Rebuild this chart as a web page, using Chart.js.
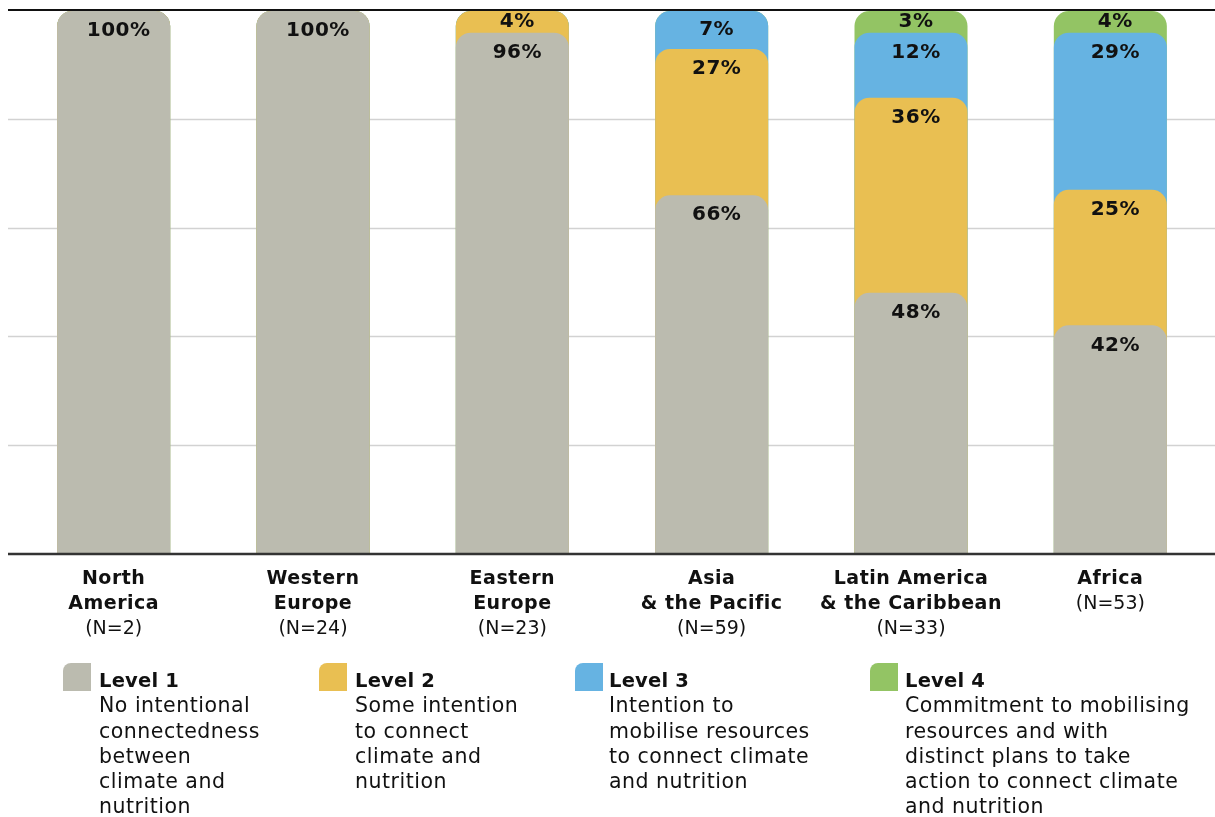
<!DOCTYPE html>
<html>
<head>
<meta charset="utf-8">
<script src="https://cdn.jsdelivr.net/npm/chart.js@4.4.0/dist/chart.umd.min.js"></script>
<style>
  html, body { margin: 0; padding: 0; background: #fff; }
  #wrap { position: relative; width: 1215px; height: 817px; overflow: hidden; font-family: "DejaVu Sans", sans-serif; }
  canvas { position: absolute; left: 0; top: 0; }
  .leg { position: absolute; top: 663px; color: #111; }
  .sw { position: absolute; left: 0; top: 0; width: 28px; height: 28px; border-top-left-radius: 8px; }
  .txt { position: absolute; top: 5px; font-size: 20.5px; line-height: 25.3px; white-space: nowrap; letter-spacing: 0.5px; }
  .txt b { font-weight: bold; font-size: 19.5px; letter-spacing: 0.2px; }
</style>
</head>
<body>
<div id="wrap">
  <canvas id="c" width="1215" height="817"></canvas>
  <div id="legend"></div>
</div>
<script>
// ---- data ----
const regions = [["North", "America"], ["Western", "Europe"], ["Eastern", "Europe"], ["Asia", "& the Pacific"], ["Latin America", "& the Caribbean"], ["Africa"]];
const sampleSizes = ["(N=2)", "(N=24)", "(N=23)", "(N=59)", "(N=33)", "(N=53)"];
// segment heights (percent)
const level1 = [100, 100, 96, 66, 48, 42];
const level2 = [0, 0, 4, 27, 36, 25];
const level3 = [0, 0, 0, 7, 12, 29];
const level4 = [0, 0, 0, 0, 4, 4];
// value labels as printed on the bars
const level1Labels = ["100%", "100%", "96%", "66%", "48%", "42%"];
const level2Labels = ["", "", "4%", "27%", "36%", "25%"];
const level3Labels = ["", "", "", "7%", "12%", "29%"];
const level4Labels = ["", "", "", "", "3%", "4%"];
const levelNames = ["Level 1", "Level 2", "Level 3", "Level 4"];
const levelDescs = [
  ["No intentional", "connectedness", "between", "climate and", "nutrition"],
  ["Some intention", "to connect", "climate and", "nutrition"],
  ["Intention to", "mobilise resources", "to connect climate", "and nutrition"],
  ["Commitment to mobilising", "resources and with", "distinct plans to take", "action to connect climate", "and nutrition"]
];
const yTicks = [0, 20, 40, 60, 80, 100];
const colors = ["#bbbbaf", "#e9bf52", "#66b3e2", "#93c464"];

// ---- build ----
const levels = [level1, level2, level3, level4];
const labelSets = [level1Labels, level2Labels, level3Labels, level4Labels];
// each level drawn as a bar from 0 to its cumulative top; lower levels are drawn over higher ones
const cumul = levels.map((arr, li) => arr.map((v, i) => levels.slice(0, li + 1).reduce((s, a) => s + a[i], 0)));

const FONT = '"DejaVu Sans", sans-serif';

const linesPlugin = {
  id: 'lines',
  beforeDatasetsDraw(chart) {
    const ctx = chart.ctx, y = chart.scales.y;
    ctx.save();
    ctx.strokeStyle = '#d2d2d2';
    ctx.lineWidth = 1.5;
    yTicks.slice(1, -1).forEach(t => {
      const py = Math.round(y.getPixelForValue(t)) + 0.5;
      ctx.beginPath(); ctx.moveTo(8, py); ctx.lineTo(1215, py); ctx.stroke();
    });
    ctx.restore();
  },
  afterDatasetsDraw(chart) {
    const ctx = chart.ctx, y = chart.scales.y, x = chart.scales.x;
    ctx.save();
    ctx.strokeStyle = '#111';
    ctx.lineWidth = 2;
    let py = y.getPixelForValue(100) - 1;
    ctx.beginPath(); ctx.moveTo(8, py); ctx.lineTo(1215, py); ctx.stroke();
    ctx.strokeStyle = '#333';
    ctx.lineWidth = 2.5;
    py = y.getPixelForValue(0) + 1;
    ctx.beginPath(); ctx.moveTo(8, py); ctx.lineTo(1215, py); ctx.stroke();

    ctx.fillStyle = '#111';
    ctx.textAlign = 'center';
    ctx.textBaseline = 'middle';
    ctx.font = 'bold 20px ' + FONT;
    ctx.letterSpacing = '0.5px';
    levels.forEach((arr, li) => {
      arr.forEach((v, i) => {
        if (v <= 0 || !labelSets[li][i]) return;
        const top = y.getPixelForValue(cumul[li][i]);
        const bot = y.getPixelForValue(cumul[li][i] - v);
        const h = bot - top;
        const ly = top + Math.min(20, h / 2);
        ctx.fillText(labelSets[li][i], x.getPixelForValue(i) + 5, ly);
      });
    });

    regions.forEach((lines, i) => {
      const cx = x.getPixelForValue(i);
      let ly = 579;
      ctx.font = 'bold 19px ' + FONT;
      ctx.letterSpacing = '0.5px';
      lines.forEach(l => { ctx.fillText(l, cx, ly); ly += 25; });
      ctx.font = '19px ' + FONT;
      ctx.letterSpacing = '0px';
      ctx.fillText(sampleSizes[i], cx, ly);
    });
    ctx.restore();
  }
};

new Chart(document.getElementById('c'), {
  type: 'bar',
  data: {
    labels: regions.map(r => r.join(' ')),
    datasets: levels.map((arr, li) => ({
      label: levelNames[li],
      data: cumul[li],
      backgroundColor: colors[li],
      borderWidth: 0,
      borderRadius: { topLeft: 15, topRight: 15, bottomLeft: 0, bottomRight: 0 },
      borderSkipped: 'bottom',
      grouped: false,
      categoryPercentage: 1,
      barPercentage: 0.567
    }))
  },
  options: {
    responsive: false,
    animation: false,
    layout: { padding: { left: 14, right: 5, top: 11, bottom: 264 } },
    plugins: { legend: { display: false }, tooltip: { enabled: false } },
    scales: {
      x: { display: false },
      y: { display: false, min: 0, max: 100 }
    }
  },
  plugins: [linesPlugin]
});

const legX = [63, 319, 575, 870];
const legTextX = [99, 355, 609, 905];
const legend = document.getElementById('legend');
levelNames.forEach((n, i) => {
  const d = document.createElement('div');
  d.className = 'leg';
  d.style.left = legX[i] + 'px';
  d.innerHTML = '<div class="sw" style="background:' + colors[i] + '"></div>' +
    '<div class="txt" style="left:' + (legTextX[i] - legX[i]) + 'px"><b>' + n + '</b><br>' + levelDescs[i].join('<br>') + '</div>';
  legend.appendChild(d);
});
</script>
</body>
</html>
